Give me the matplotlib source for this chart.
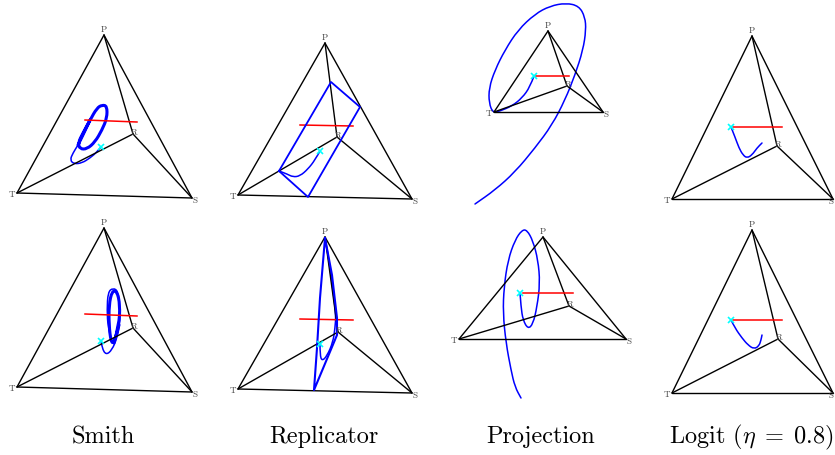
#!/usr/bin/env python3
"""Simplex projections of the learning dynamics: four rules, two rows."""
import matplotlib

matplotlib.use("Agg")
import matplotlib.pyplot as plt
from matplotlib.patches import PathPatch
from matplotlib.path import Path

plt.rcParams["font.family"] = ["cmr10", "DejaVu Sans"]
plt.rcParams["mathtext.fontset"] = "cm"
plt.rcParams["axes.formatter.use_mathtext"] = True

TITLES = ["Smith", "Replicator", "Projection", r"Logit ($\eta\;=\;0.8$)"]
TITLE_X = [103, 324, 541, 751]

# vertices P, T, S, R of each tetrahedron, picture pixels
VERTS = [
    [(104, 35), (17, 193), (192, 198), (133, 134)],
    [(325, 43), (238, 195), (412, 199), (337, 137)],
    [(548, 31), (494, 112), (603, 112), (567, 86)],
    [(752, 36), (672, 199), (833, 199), (777, 146)],
    [(104, 228), (17, 387), (192, 392), (133, 328)],
    [(325, 237), (238, 389), (412, 393), (338, 332)],
    [(543, 237), (459, 339), (626, 339), (569, 306)],
    [(752, 230), (672, 393), (833, 393), (778, 339)],
]
RED = [
    [(85, 120), (137, 122)],
    [(300, 125), (353, 126)],
    [(535, 76), (569, 76)],
    [(733, 127), (782, 127)],
    [(85, 314), (137, 316)],
    [(300, 319), (353, 320)],
    [(523, 293), (573, 293)],
    [(733, 320), (782, 320)],
]
# thin transient of each trajectory, starts at the cyan cross
PATHS = [
    [(101, 147), (97, 152), (90, 158), (82, 163), (74, 164), (70, 160), (73, 153), (78, 145)],
    [(320, 151), (315, 160), (308, 169), (300, 176), (293, 177), (287, 174), (279, 171)],
    [(534, 76), (530, 87), (522, 98), (512, 106), (500, 111), (493, 113), (489, 103), (489, 88),
     (495, 70), (505, 50), (518, 30), (535, 14), (550, 6), (566, 3), (579, 6), (585, 17),
     (586, 30), (583, 50), (575, 75), (565, 100), (552, 125), (535, 148), (515, 172),
     (495, 190), (475, 204)],
    [(731, 127), (735, 137), (739, 148), (743, 155), (747, 158), (752, 155), (757, 148), (762, 143)],
    [(101, 341), (102, 348), (106, 355), (112, 350), (117, 338), (120, 323), (120, 307),
     (118, 291), (113, 288), (108, 292), (107, 310), (108, 327), (112, 342)],
    [(320, 344), (320, 355), (322, 361), (327, 356), (333, 342), (335, 328), (336, 315),
     (332, 282), (327, 248), (325, 238)],
    [(520, 293), (521, 307), (523, 320), (528, 329), (533, 324), (537, 307), (540, 283),
     (538, 260), (533, 241), (527, 230), (522, 230), (515, 240), (508, 260), (504, 287),
     (503, 313), (506, 343), (511, 370), (515, 387), (521, 398)],
    [(731, 320), (735, 328), (742, 338), (748, 345), (754, 349), (759, 346), (761, 340), (762, 335)],
]
# limit cycles, drawn heavier; empty where the path never settles
CYCLES = [
    [(78, 145), (83, 135), (90, 120), (97, 108), (102, 105), (107, 106), (107, 118), (102, 130),
     (95, 142), (87, 149), (80, 149), (78, 143), (83, 133), (90, 120)],
    [(279, 171), (331, 82), (360, 107), (308, 197), (279, 171)],
    [],
    [],
    [(114, 343), (119, 325), (120, 305), (117, 291), (112, 291), (109, 305), (109, 325),
     (111, 342), (114, 343), (119, 325)],
    [(325, 238), (320, 298), (317, 348), (314, 390), (337, 335), (337, 318), (332, 275), (325, 238)],
    [],
    [],
]
CYCLE_LW = [2.2, 1.3, 0, 0, 2.2, 1.5, 0, 0]
CYCLE_ROUND = [True, False, False, False, True, False, False, False]
EDGES = [(0, 1), (0, 2), (1, 2), (0, 3), (1, 3), (2, 3)]


def xy(points):
    return [p[0] for p in points], [p[1] for p in points]


def smooth(ax, points, lw):
    # quadratic bezier chain: read points act as controls, midpoints lie on the curve
    verts = [points[0]]
    codes = [Path.MOVETO]
    for p, q in zip(points[1:-1], points[2:]):
        verts += [p, ((p[0] + q[0]) / 2, (p[1] + q[1]) / 2)]
        codes += [Path.CURVE3, Path.CURVE3]
    verts.append(points[-1])
    codes.append(Path.LINETO)
    ax.add_patch(PathPatch(Path(verts, codes), fc="none", ec="blue", lw=lw, capstyle="round"))


def draw_panel(ax, verts, red, path, cycle, cycle_lw, cycle_round):
    for a, b in EDGES:
        ax.plot(*xy([verts[a], verts[b]]), color="black", lw=1.0, solid_capstyle="round")
    ax.plot(*xy(red), color="red", lw=1.1)
    smooth(ax, path, 1.1)
    if cycle and cycle_round:
        smooth(ax, cycle, cycle_lw)
    elif cycle:
        ax.plot(*xy(cycle), color="blue", lw=cycle_lw, solid_joinstyle="round")
    ax.plot(*xy(path[:1]), "x", color="cyan", ms=3.8, mew=1.2, zorder=5)

    lab = dict(fontsize=6.5, color="#444444", ha="center", va="center")
    ax.text(verts[0][0], verts[0][1] - 5, "P", **lab)
    ax.text(verts[1][0] - 5, verts[1][1] + 2, "T", **lab)
    ax.text(min(verts[2][0] + 3, 831), verts[2][1] + 3, "S", **lab)
    ax.text(verts[3][0] + 1, verts[3][1] - 1, "R", **lab)


def main():
    fig = plt.figure(figsize=(8.35, 4.55), dpi=100, facecolor="white")
    ax = fig.add_axes([0, 0, 1, 1])
    ax.set_xlim(0, 835)
    ax.set_ylim(455, 0)
    ax.axis("off")
    for i in range(8):
        draw_panel(ax, VERTS[i], RED[i], PATHS[i], CYCLES[i], CYCLE_LW[i], CYCLE_ROUND[i])
    for x, title in zip(TITLE_X, TITLES):
        ax.text(x, 443, title, fontsize=17.5, ha="center", va="baseline", color="black")
    fig.savefig("out.png", dpi=100, facecolor="white")
    plt.close(fig)


if __name__ == "__main__":
    main()
